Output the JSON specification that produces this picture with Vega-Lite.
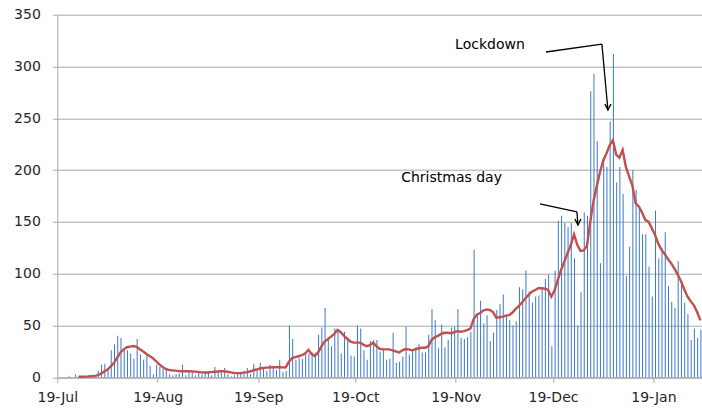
{
"$schema": "https://vega.github.io/schema/vega-lite/v6.json",
"width": 644.7, "height": 362.6,
"autosize": {"type": "none"},
"padding": {"left": 57.3, "top": 14.7, "right": 0, "bottom": 35.7},
"background": "white",
"config": {
"view": {"stroke": null}, "font": "DejaVu Sans",
"axisX": {"grid": false, "domainColor": "#A6A6A6", "tickColor": "#A6A6A6", "tickSize": 5, "labelFontSize": 14, "labelFont": "DejaVu Sans", "labelColor": "#262626", "labelPadding": 8, "labelFlush": false, "labelOverlap": false, "labelExpr": "utcFormat(datum.value, '%d-%b')"},
"axisY": {"grid": true, "gridColor": "#A8A8A8", "domainColor": "#A8A8A8", "tickColor": "#A8A8A8", "tickSize": 5, "labelFontSize": 14, "labelFont": "DejaVu Sans", "labelColor": "#262626", "labelPadding": 12}
},
"datasets": {
"daily": [
{"date":"2020-07-19","n":0},{"date":"2020-07-20","n":0},{"date":"2020-07-21","n":0},{"date":"2020-07-22","n":1},{"date":"2020-07-23","n":0},{"date":"2020-07-24","n":3},
{"date":"2020-07-25","n":0,"ma":0.6},{"date":"2020-07-26","n":0,"ma":0.6},{"date":"2020-07-27","n":0,"ma":0.7},{"date":"2020-07-28","n":0,"ma":0.8},{"date":"2020-07-29","n":0,"ma":1},{"date":"2020-07-30","n":1,"ma":1.2},{"date":"2020-07-31","n":6,"ma":2},
{"date":"2020-08-01","n":12,"ma":3.5},{"date":"2020-08-02","n":13,"ma":5.5},{"date":"2020-08-03","n":9,"ma":7.5},{"date":"2020-08-04","n":26,"ma":10.5},{"date":"2020-08-05","n":32,"ma":14},{"date":"2020-08-06","n":40,"ma":19},{"date":"2020-08-07","n":38,"ma":24},{"date":"2020-08-08","n":26,"ma":27},{"date":"2020-08-09","n":26,"ma":29},{"date":"2020-08-10","n":23,"ma":29.6},{"date":"2020-08-11","n":18,"ma":30.2},{"date":"2020-08-12","n":37,"ma":29.5},{"date":"2020-08-13","n":22,"ma":27},{"date":"2020-08-14","n":17,"ma":25},{"date":"2020-08-15","n":22,"ma":22.5},{"date":"2020-08-16","n":11,"ma":20.5},{"date":"2020-08-17","n":3,"ma":18.5},{"date":"2020-08-18","n":12,"ma":15.5},{"date":"2020-08-19","n":10,"ma":12.5},{"date":"2020-08-20","n":8,"ma":10},{"date":"2020-08-21","n":7,"ma":8},{"date":"2020-08-22","n":3,"ma":7},{"date":"2020-08-23","n":2,"ma":6.7},{"date":"2020-08-24","n":3,"ma":6.4},{"date":"2020-08-25","n":4,"ma":6},{"date":"2020-08-26","n":12,"ma":5.8},{"date":"2020-08-27","n":2,"ma":5.8},{"date":"2020-08-28","n":5,"ma":5.8},{"date":"2020-08-29","n":5,"ma":5.7},{"date":"2020-08-30","n":2,"ma":5.5},{"date":"2020-08-31","n":6,"ma":5.2},
{"date":"2020-09-01","n":3,"ma":4.8},{"date":"2020-09-02","n":5,"ma":4.6},{"date":"2020-09-03","n":6,"ma":4.6},{"date":"2020-09-04","n":2,"ma":5},{"date":"2020-09-05","n":10,"ma":5.3},{"date":"2020-09-06","n":7,"ma":5.6},{"date":"2020-09-07","n":6,"ma":6},{"date":"2020-09-08","n":9,"ma":5.8},{"date":"2020-09-09","n":3,"ma":5.4},{"date":"2020-09-10","n":1,"ma":4.8},{"date":"2020-09-11","n":2,"ma":4.2},{"date":"2020-09-12","n":4,"ma":4},{"date":"2020-09-13","n":5,"ma":4.2},{"date":"2020-09-14","n":6,"ma":4.5},{"date":"2020-09-15","n":9,"ma":5},{"date":"2020-09-16","n":3,"ma":5.6},{"date":"2020-09-17","n":13,"ma":6.8},{"date":"2020-09-18","n":8,"ma":7.5},{"date":"2020-09-19","n":14,"ma":8.5},{"date":"2020-09-20","n":10,"ma":9},{"date":"2020-09-21","n":6,"ma":9.3},{"date":"2020-09-22","n":12,"ma":9.6},{"date":"2020-09-23","n":11,"ma":9.8},{"date":"2020-09-24","n":7,"ma":9.7},{"date":"2020-09-25","n":17,"ma":10},{"date":"2020-09-26","n":5,"ma":9.6},{"date":"2020-09-27","n":6,"ma":9.5},{"date":"2020-09-28","n":50,"ma":15},{"date":"2020-09-29","n":37,"ma":18.5},{"date":"2020-09-30","n":17,"ma":19.5},
{"date":"2020-10-01","n":19,"ma":20.5},{"date":"2020-10-02","n":18,"ma":21.5},{"date":"2020-10-03","n":23,"ma":23},{"date":"2020-10-04","n":23,"ma":26.5},{"date":"2020-10-05","n":24,"ma":22.5},{"date":"2020-10-06","n":24,"ma":20.5},{"date":"2020-10-07","n":41,"ma":24},{"date":"2020-10-08","n":48,"ma":29.5},{"date":"2020-10-09","n":67,"ma":34.5},{"date":"2020-10-10","n":39,"ma":36.7},{"date":"2020-10-11","n":30,"ma":39.3},{"date":"2020-10-12","n":47,"ma":42},{"date":"2020-10-13","n":46,"ma":45.7},{"date":"2020-10-14","n":23,"ma":43.5},{"date":"2020-10-15","n":44,"ma":40},{"date":"2020-10-16","n":39,"ma":37},{"date":"2020-10-17","n":21,"ma":34.5},{"date":"2020-10-18","n":20,"ma":33.5},{"date":"2020-10-19","n":50,"ma":33.5},{"date":"2020-10-20","n":47,"ma":33.5},{"date":"2020-10-21","n":26,"ma":31.5},{"date":"2020-10-22","n":17,"ma":30},{"date":"2020-10-23","n":35,"ma":31},{"date":"2020-10-24","n":36,"ma":33.5},{"date":"2020-10-25","n":36,"ma":30},{"date":"2020-10-26","n":25,"ma":27.5},{"date":"2020-10-27","n":27,"ma":27},{"date":"2020-10-28","n":17,"ma":27},{"date":"2020-10-29","n":18,"ma":27},{"date":"2020-10-30","n":43,"ma":26},{"date":"2020-10-31","n":14,"ma":25},
{"date":"2020-11-01","n":15,"ma":24},{"date":"2020-11-02","n":20,"ma":26},{"date":"2020-11-03","n":49,"ma":27.3},{"date":"2020-11-04","n":22,"ma":27},{"date":"2020-11-05","n":26,"ma":26},{"date":"2020-11-06","n":29,"ma":27},{"date":"2020-11-07","n":32,"ma":28},{"date":"2020-11-08","n":24,"ma":28.5},{"date":"2020-11-09","n":24,"ma":28.5},{"date":"2020-11-10","n":41,"ma":30},{"date":"2020-11-11","n":66,"ma":36},{"date":"2020-11-12","n":55,"ma":38.6},{"date":"2020-11-13","n":28,"ma":40},{"date":"2020-11-14","n":51,"ma":42},{"date":"2020-11-15","n":29,"ma":43},{"date":"2020-11-16","n":36,"ma":43},{"date":"2020-11-17","n":48,"ma":42.5},{"date":"2020-11-18","n":49,"ma":43.5},{"date":"2020-11-19","n":66,"ma":44.5},{"date":"2020-11-20","n":38,"ma":44},{"date":"2020-11-21","n":37,"ma":44.5},{"date":"2020-11-22","n":39,"ma":45.5},{"date":"2020-11-23","n":44,"ma":47},{"date":"2020-11-24","n":123,"ma":56},{"date":"2020-11-25","n":62,"ma":60.5},{"date":"2020-11-26","n":74,"ma":62},{"date":"2020-11-27","n":52,"ma":64.5},{"date":"2020-11-28","n":60,"ma":65.5},{"date":"2020-11-29","n":35,"ma":65},{"date":"2020-11-30","n":43,"ma":63},
{"date":"2020-12-01","n":65,"ma":57.5},{"date":"2020-12-02","n":71,"ma":58},{"date":"2020-12-03","n":80,"ma":58.5},{"date":"2020-12-04","n":59,"ma":59.5},{"date":"2020-12-05","n":55,"ma":60},{"date":"2020-12-06","n":50,"ma":62.5},{"date":"2020-12-07","n":54,"ma":66},{"date":"2020-12-08","n":87,"ma":69},{"date":"2020-12-09","n":85,"ma":72.5},{"date":"2020-12-10","n":103,"ma":76.3},{"date":"2020-12-11","n":83,"ma":79.5},{"date":"2020-12-12","n":72,"ma":82.7},{"date":"2020-12-13","n":78,"ma":84.3},{"date":"2020-12-14","n":79,"ma":86},{"date":"2020-12-15","n":87,"ma":86},{"date":"2020-12-16","n":95,"ma":85.5},{"date":"2020-12-17","n":99,"ma":84.3},{"date":"2020-12-18","n":30,"ma":78},{"date":"2020-12-19","n":103,"ma":84},{"date":"2020-12-20","n":151,"ma":94},{"date":"2020-12-21","n":156,"ma":103.6},{"date":"2020-12-22","n":149,"ma":111.6},{"date":"2020-12-23","n":145,"ma":119.7},{"date":"2020-12-24","n":149,"ma":127.7},{"date":"2020-12-25","n":115,"ma":138},{"date":"2020-12-26","n":50,"ma":128},{"date":"2020-12-27","n":82,"ma":122},{"date":"2020-12-28","n":159,"ma":122.5},{"date":"2020-12-29","n":156,"ma":127},{"date":"2020-12-30","n":276,"ma":150},{"date":"2020-12-31","n":293,"ma":170},
{"date":"2021-01-01","n":228,"ma":184},{"date":"2021-01-02","n":110,"ma":198},{"date":"2021-01-03","n":212,"ma":209},{"date":"2021-01-04","n":203,"ma":216},{"date":"2021-01-05","n":247,"ma":224},{"date":"2021-01-06","n":312,"ma":229},{"date":"2021-01-07","n":188,"ma":215},{"date":"2021-01-08","n":203,"ma":212},{"date":"2021-01-09","n":177,"ma":219.5},{"date":"2021-01-10","n":98,"ma":203},{"date":"2021-01-11","n":126,"ma":194},{"date":"2021-01-12","n":200,"ma":185},{"date":"2021-01-13","n":181,"ma":168},{"date":"2021-01-14","n":165,"ma":165},{"date":"2021-01-15","n":138,"ma":159},{"date":"2021-01-16","n":138,"ma":152},{"date":"2021-01-17","n":107,"ma":150},{"date":"2021-01-18","n":78,"ma":144},{"date":"2021-01-19","n":161,"ma":137.5},{"date":"2021-01-20","n":115,"ma":129},{"date":"2021-01-21","n":125,"ma":123},{"date":"2021-01-22","n":140,"ma":119},{"date":"2021-01-23","n":88,"ma":114},{"date":"2021-01-24","n":73,"ma":110},{"date":"2021-01-25","n":67,"ma":105},{"date":"2021-01-26","n":112,"ma":99},{"date":"2021-01-27","n":93,"ma":93},{"date":"2021-01-28","n":72,"ma":85},{"date":"2021-01-29","n":61,"ma":78},{"date":"2021-01-30","n":36,"ma":73.5},{"date":"2021-01-31","n":47,"ma":69.5},
{"date":"2021-02-01","n":38,"ma":63},{"date":"2021-02-02","n":46,"ma":55}
],
"notes": [
{"label":"Lockdown","x":"2020-11-29T13:12:00Z","y":320.7},
{"label":"Christmas day","x":"2020-11-17T16:48:00Z","y":192.5}
],
"arrows": [
{"x":"2020-12-16T20:00:00Z","x2":"2021-01-03T02:24:00Z","y":314,"y2":321.7},
{"x":"2021-01-03T02:24:00Z","x2":"2021-01-04T23:00:00Z","y":321.7,"y2":258},
{"x":"2020-12-14T23:30:00Z","x2":"2020-12-26T09:36:00Z","y":167.3,"y2":159.6},
{"x":"2020-12-26T09:36:00Z","x2":"2020-12-26T16:48:00Z","y":159.6,"y2":147}
],
"heads": [
{"x":"2021-01-04T23:00:00Z","y":258},
{"x":"2020-12-26T16:48:00Z","y":147}
]
},
"layer": [
{
"data": {"name": "daily"},
"mark": {"type": "bar", "color": "#3D78CC", "width": {"band": 0.62}},
"encoding": {
"x": {"field": "date", "type": "temporal", "timeUnit": "utcyearmonthdate", "title": null,
"scale": {"type": "utc", "nice": false, "domain": [{"year":2020,"month":7,"date":19,"utc":true},{"year":2021,"month":2,"date":3,"utc":true}]},
"axis": {"values": [{"year":2020,"month":7,"date":19,"utc":true},{"year":2020,"month":8,"date":19,"utc":true},{"year":2020,"month":9,"date":19,"utc":true},{"year":2020,"month":10,"date":19,"utc":true},{"year":2020,"month":11,"date":19,"utc":true},{"year":2020,"month":12,"date":19,"utc":true},{"year":2021,"month":1,"date":19,"utc":true}]}},
"y": {"field": "n", "type": "quantitative", "title": null,
"scale": {"domain": [0, 350], "nice": false},
"axis": {"values": [0,50,100,150,200,250,300,350]}}
}
},
{
"data": {"name": "daily"},
"transform": [{"filter": "isValid(datum.ma)"}],
"mark": {"type": "line", "color": "#C0504D", "strokeWidth": 2.4},
"encoding": {
"x": {"field": "date", "type": "temporal", "timeUnit": "utcyearmonthdate", "bandPosition": 0.5, "title": null,
"scale": {"type": "utc", "nice": false, "domain": [{"year":2020,"month":7,"date":19,"utc":true},{"year":2021,"month":2,"date":3,"utc":true}]},
"axis": {"values": [{"year":2020,"month":7,"date":19,"utc":true},{"year":2020,"month":8,"date":19,"utc":true},{"year":2020,"month":9,"date":19,"utc":true},{"year":2020,"month":10,"date":19,"utc":true},{"year":2020,"month":11,"date":19,"utc":true},{"year":2020,"month":12,"date":19,"utc":true},{"year":2021,"month":1,"date":19,"utc":true}]}},
"y": {"field": "ma", "type": "quantitative", "title": null, "scale": {"domain": [0, 350], "nice": false}, "axis": {"values": [0,50,100,150,200,250,300,350]}}
}
},
{
"data": {"name": "arrows"},
"mark": {"type": "rule", "color": "black", "strokeWidth": 1.3},
"encoding": {
"x": {"field": "x", "type": "temporal", "title": null,
"scale": {"type": "utc", "nice": false, "domain": [{"year":2020,"month":7,"date":19,"utc":true},{"year":2021,"month":2,"date":3,"utc":true}]},
"axis": {"values": [{"year":2020,"month":7,"date":19,"utc":true},{"year":2020,"month":8,"date":19,"utc":true},{"year":2020,"month":9,"date":19,"utc":true},{"year":2020,"month":10,"date":19,"utc":true},{"year":2020,"month":11,"date":19,"utc":true},{"year":2020,"month":12,"date":19,"utc":true},{"year":2021,"month":1,"date":19,"utc":true}]}},
"x2": {"field": "x2"},
"y": {"field": "y", "type": "quantitative", "title": null, "scale": {"domain": [0, 350], "nice": false}, "axis": {"values": [0,50,100,150,200,250,300,350]}},
"y2": {"field": "y2"}
}
},
{
"data": {"name": "heads"},
"mark": {"type": "point", "shape": "M-1,-2L0,0L1,-2", "size": 36, "filled": false, "stroke": "black", "strokeWidth": 1.4, "opacity": 1},
"encoding": {
"x": {"field": "x", "type": "temporal", "title": null,
"scale": {"type": "utc", "nice": false, "domain": [{"year":2020,"month":7,"date":19,"utc":true},{"year":2021,"month":2,"date":3,"utc":true}]},
"axis": {"values": [{"year":2020,"month":7,"date":19,"utc":true},{"year":2020,"month":8,"date":19,"utc":true},{"year":2020,"month":9,"date":19,"utc":true},{"year":2020,"month":10,"date":19,"utc":true},{"year":2020,"month":11,"date":19,"utc":true},{"year":2020,"month":12,"date":19,"utc":true},{"year":2021,"month":1,"date":19,"utc":true}]}},
"y": {"field": "y", "type": "quantitative", "title": null, "scale": {"domain": [0, 350], "nice": false}, "axis": {"values": [0,50,100,150,200,250,300,350]}}
}
},
{
"data": {"name": "notes"},
"mark": {"type": "text", "font": "DejaVu Sans", "fontSize": 14, "color": "black", "align": "center", "baseline": "middle"},
"encoding": {
"x": {"field": "x", "type": "temporal", "title": null,
"scale": {"type": "utc", "nice": false, "domain": [{"year":2020,"month":7,"date":19,"utc":true},{"year":2021,"month":2,"date":3,"utc":true}]},
"axis": {"values": [{"year":2020,"month":7,"date":19,"utc":true},{"year":2020,"month":8,"date":19,"utc":true},{"year":2020,"month":9,"date":19,"utc":true},{"year":2020,"month":10,"date":19,"utc":true},{"year":2020,"month":11,"date":19,"utc":true},{"year":2020,"month":12,"date":19,"utc":true},{"year":2021,"month":1,"date":19,"utc":true}]}},
"y": {"field": "y", "type": "quantitative", "title": null, "scale": {"domain": [0, 350], "nice": false}, "axis": {"values": [0,50,100,150,200,250,300,350]}},
"text": {"field": "label"}
}
}
]
}
